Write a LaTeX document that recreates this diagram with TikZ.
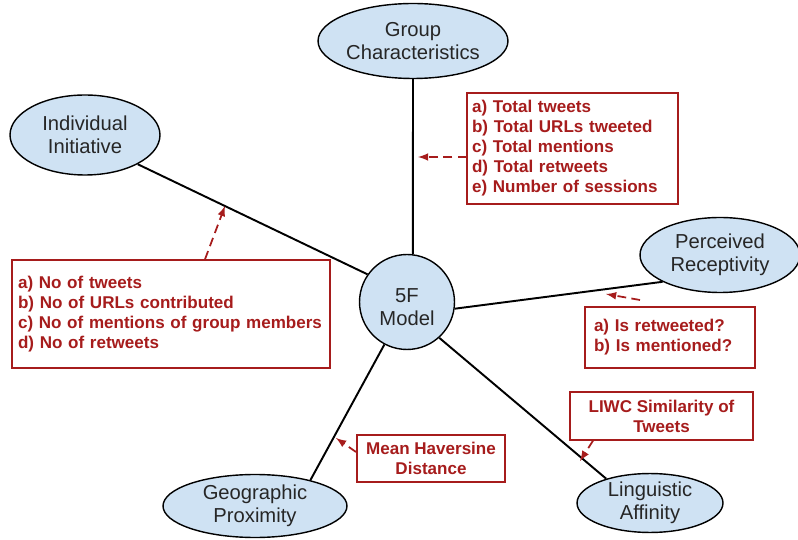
\documentclass[tikz,border=0pt]{standalone}
\usepackage{fontspec}
\setmainfont{Liberation Sans}
\usetikzlibrary{shapes.geometric}
\definecolor{factorblue}{RGB}{207,226,243}
\definecolor{featred}{RGB}{166,28,28}
\tikzset{
factor/.style={ellipse, draw=black, line width=0.8pt, fill=factorblue, text=black!85, align=center, inner sep=0pt, font=\fontsize{11.5}{13}\selectfont},
feature/.style={rectangle, draw=featred, line width=0.8pt, text=featred, inner sep=0pt, font=\bfseries\fontsize{9.7}{11.4}\selectfont},
link/.style={line width=1.1pt},
hint/.style={color=featred, dashed, dash pattern=on 5pt off 3pt, line width=1pt, -latex}
}
\begin{document}
\begin{tikzpicture}[x=0.02cm, y=-0.02cm]
\useasboundingbox (0,0) rectangle (798,540);
\node[factor, minimum width=3.8cm, minimum height=1.5cm] (group) at (413,41) {Group\\Characteristics};
\node[factor, minimum width=3cm, minimum height=1.6cm] (indiv) at (85,135) {Individual\\Initiative};
\node[factor, minimum width=1.9cm, minimum height=1.9cm] (fivef) at (407,302) {\rule{0pt}{14pt}5F\\Model};
\node[factor, minimum width=3.2cm, minimum height=1.5cm] (perc) at (720,255) {Perceived\\Receptivity};
\node[factor, minimum width=2.92cm, minimum height=1.16cm] (ling) at (650,503) {Linguistic\\Affinity};
\node[factor, minimum width=3.68cm, minimum height=1.26cm] (geo) at (255,506) {Geographic\\Proximity};
\draw[link] (fivef.83) -- (group.south);
\draw[link] (fivef.145) -- (indiv.-29);
\draw[link] (fivef.-8) -- (perc.205);
\draw[link] (fivef.-48) -- (ling.151);
\draw[link] (fivef.-118) -- (geo.25);
\node[feature, minimum width=4.22cm, minimum height=2.22cm, text width=4.02cm, align=left] (gbox) at (572.5,148.5) {a) Total tweets\\b) Total URLs tweeted\\c) Total mentions\\d) Total retweets\\e) Number of sessions};
\node[feature, minimum width=6.36cm, minimum height=2.16cm, text width=6.12cm, align=left] (ibox) at (171,314) {a) No of tweets\\b) No of URLs contributed\\c) No of mentions of group members\\d) No of retweets};
\node[feature, minimum width=3.4cm, minimum height=1.22cm, text width=3.04cm, align=left] (pbox) at (670,337.5) {a) Is retweeted?\\b) Is mentioned?};
\node[feature, minimum width=2.96cm, minimum height=0.94cm, align=center] (hbox) at (431,458.5) {Mean Haversine\\Distance};
\node[feature, minimum width=3.66cm, minimum height=0.96cm, align=center] (lbox) at (661.5,416) {LIWC Similarity of\\Tweets};
\coordinate (gtip) at (418,157);
\coordinate (itip) at (225,206);
\coordinate (ptail) at (640,300);
\coordinate (ptip) at (606,294);
\coordinate (htail) at (356,452);
\coordinate (htip) at (336,438);
\coordinate (ltip) at (580,461);
\draw[hint] (gtip -| gbox.west) -- (gtip);
\draw[hint] ([xshift=0.68cm]ibox.north) -- (itip);
\draw[hint] (ptail) -- (ptip);
\draw[hint] (htail) -- (htip);
\draw[hint] ([xshift=-1.37cm]lbox.south) -- (ltip);
\end{tikzpicture}
\end{document}
